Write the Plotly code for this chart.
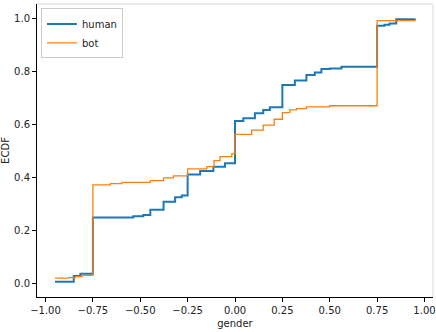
import plotly.graph_objs as go

# ступенчатые ECDF, значения
human_x = [-0.95, -0.851, -0.816, -0.75, -0.537, -0.484, -0.447, -0.377, -0.316, -0.281,
           -0.25, -0.184, -0.114, -0.053, 0.0, 0.044, 0.105, 0.149, 0.184, 0.25,
           0.316, 0.377, 0.421, 0.456, 0.5, 0.562, 0.75, 0.789, 0.816, 0.851, 0.95]
human_y = [0.006, 0.027, 0.036, 0.248, 0.253, 0.258, 0.277, 0.308, 0.325, 0.331,
           0.410, 0.424, 0.440, 0.453, 0.612, 0.623, 0.642, 0.654, 0.664, 0.748,
           0.765, 0.786, 0.795, 0.809, 0.811, 0.817, 0.972, 0.976, 0.980, 0.996, 0.998]

bot_x = [-0.95, -0.877, -0.842, -0.807, -0.75, -0.658, -0.596, -0.447, -0.377, -0.325,
         -0.25, -0.149, -0.111, -0.079, -0.017, 0.0, 0.088, 0.149, 0.207, 0.25,
         0.289, 0.325, 0.377, 0.5, 0.75, 0.95]
bot_y = [0.019, 0.021, 0.025, 0.030, 0.371, 0.376, 0.381, 0.387, 0.398, 0.405,
         0.432, 0.440, 0.463, 0.478, 0.488, 0.562, 0.578, 0.597, 0.619, 0.644,
         0.654, 0.659, 0.666, 0.670, 0.991, 0.992]

x_ticks = [-1.0, -0.75, -0.5, -0.25, 0.0, 0.25, 0.5, 0.75, 1.0]
y_ticks = [0.0, 0.2, 0.4, 0.6, 0.8, 1.0]

trace_human = go.Scatter(x=human_x, y=human_y, name='human', mode='lines',
                         line=dict(color='#1f77b4', width=2, shape='hv'))
trace_bot = go.Scatter(x=bot_x, y=bot_y, name='bot', mode='lines',
                       line=dict(color='#ff7f0e', width=1.3, shape='hv'))

fig = go.Figure(data=[trace_human, trace_bot])

axis_font = dict(family='DejaVu Sans', size=10, color='#222')

fig.update_layout(
    width=436, height=332,
    margin=dict(l=37, r=3, t=4, b=35),
    paper_bgcolor='white', plot_bgcolor='white',
    font=axis_font,
    showlegend=True,
    legend=dict(x=0.01, y=0.985, xanchor='left', yanchor='top',
                bgcolor='white', bordercolor='#cccccc', borderwidth=1,
                font=dict(family='DejaVu Sans', size=10, color='#222'),
                itemwidth=30, tracegroupgap=0),
    xaxis=dict(range=[-1.045, 1.045], tickvals=x_ticks, tickformat='.2f',
               showgrid=False, zeroline=False, showline=True, linecolor='black',
               linewidth=1, ticks='outside', ticklen=4, tickcolor='black',
               automargin=False,
               title=dict(text='gender', standoff=4, font=axis_font)),
    yaxis=dict(range=[-0.052, 1.054], tickvals=y_ticks, tickformat='.1f',
               showgrid=False, zeroline=False, showline=True, linecolor='black',
               linewidth=1, ticks='outside', ticklen=4, tickcolor='black',
               automargin=False,
               title=dict(text='ECDF', standoff=6, font=axis_font)),
)

# светлая рамка сверху и справа
fig.add_shape(type='line', xref='paper', yref='paper', x0=0, x1=1, y0=1, y1=1,
              line=dict(color='#ececec', width=2))
fig.add_shape(type='line', xref='paper', yref='paper', x0=1, x1=1, y0=0, y1=1,
              line=dict(color='#ececec', width=2))

# убрать отступ body, чтобы график стоял в углу окна
fig.write_html('out.html', config={'displayModeBar': False},
               post_script="document.body.style.margin='0';")
